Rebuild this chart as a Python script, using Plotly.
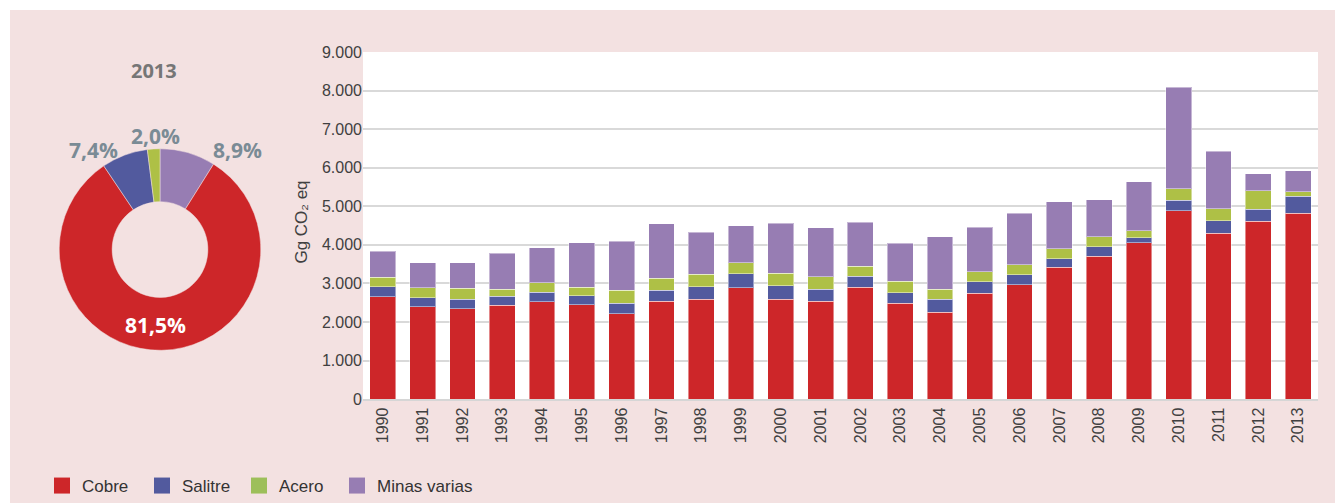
import plotly.graph_objects as go

# ---------------- data ----------------
years = [str(y) for y in range(1990, 2014)]
cobre = [2660, 2400, 2350, 2430, 2520, 2450, 2220, 2540, 2590, 2890, 2590, 2540,
         2900, 2490, 2250, 2740, 2960, 3420, 3700, 4050, 4880, 4300, 4610, 4820]
salitre = [250, 230, 240, 240, 250, 230, 270, 280, 320, 360, 350, 310,
           290, 270, 340, 310, 260, 220, 250, 130, 280, 330, 310, 440]
acero = [250, 260, 280, 180, 250, 220, 340, 310, 330, 280, 330, 320,
         260, 300, 260, 250, 260, 260, 260, 190, 290, 310, 480, 120]
minas = [670, 640, 670, 930, 900, 1160, 1260, 1420, 1090, 960, 1290, 1270,
         1140, 980, 1360, 1150, 1340, 1220, 960, 1270, 2630, 1490, 440, 540]

series_names = ["Cobre", "Salitre", "Acero", "Minas varias"]
series_values = [cobre, salitre, acero, minas]

pie_year = "2013"
pie_labels = ["Minas varias", "Cobre", "Salitre", "Acero"]
pie_values = [8.9, 81.5, 7.4, 2.0]

y_ticks = [0, 1000, 2000, 3000, 4000, 5000, 6000, 7000, 8000, 9000]
y_title = "Gg CO₂ eq"

# ---------------- style ----------------
colors = {"Cobre": "#cd2629", "Salitre": "#525a9e", "Acero": "#aec046", "Minas varias": "#977db3"}
legend_colors = {"Cobre": "#cd2629", "Salitre": "#525a9e", "Acero": "#9dbf5a", "Minas varias": "#977db3"}
legend_x_px = [42, 142, 239, 337]
PINK = "#f3e1e1"
OFF = 8                      # page body margin
W, H = 1343 - OFF, 504 - OFF
NARROW = "Liberation Sans Narrow, Arial Narrow, Liberation Sans, sans-serif"
ARIAL = "Liberation Sans, Arial, sans-serif"
BOLD = "Open Sans, Lato, sans-serif"

def px_x(p):
    return (p - OFF) / W

def px_y(p):
    return (H - (p - OFF)) / H

fig = go.Figure()

for name, vals in zip(series_names, series_values):
    fig.add_trace(go.Bar(
        x=years, y=vals, name=name, showlegend=False,
        marker=dict(color=colors[name], line=dict(color="rgba(255,255,255,0.45)", width=1)),
    ))

# legend entries (square swatches), one small legend per entry
legend_ids = ["legend", "legend2", "legend3", "legend4"]
for name, lid in zip(series_names, legend_ids):
    fig.add_trace(go.Scatter(
        x=[None], y=[None], mode="markers", name=name, showlegend=True, legend=lid,
        marker=dict(symbol="square", size=18, color=legend_colors[name]),
    ))

fig.add_trace(go.Pie(
    labels=pie_labels, values=pie_values, sort=False, direction="clockwise",
    rotation=0, hole=0.475, textinfo="none", showlegend=False,
    marker=dict(colors=[colors[l] for l in pie_labels], line=dict(color=PINK, width=0.5)),
    domain=dict(x=[px_x(59), px_x(261)], y=[px_y(351), px_y(149)]),
))

def fmt_pct(v):
    return f"{v:.1f}".replace(".", ",") + "%"

pie_label_pos = {"Minas varias": (237, 150, "#7a8b95"),
                 "Cobre": (155, 326, "white"),
                 "Salitre": (93, 150, "#7a8b95"),
                 "Acero": (155, 136, "#7a8b95")}

annotations = []
for lab, val in zip(pie_labels, pie_values):
    x, y, c = pie_label_pos[lab]
    annotations.append(dict(
        x=px_x(x), y=px_y(y), xref="paper", yref="paper", text=fmt_pct(val),
        showarrow=False, font=dict(family=BOLD, size=21, color=c, weight="bold"),
        xanchor="center", yanchor="middle"))

annotations.append(dict(
    x=px_x(154), y=px_y(71), xref="paper", yref="paper", text=pie_year,
    showarrow=False, font=dict(family=BOLD, size=20, color="#767676", weight="bold"),
    xanchor="center", yanchor="middle"))

annotations.append(dict(
    x=px_x(302), y=px_y(223), xref="paper", yref="paper", text=y_title,
    showarrow=False, textangle=-90, font=dict(family=NARROW, size=17, color="#404040"),
    xanchor="center", yanchor="middle"))

shapes = [
    dict(type="rect", xref="paper", yref="paper", x0=px_x(10), x1=1.0, y0=0, y1=px_y(10),
         fillcolor=PINK, line=dict(width=0), layer="below"),
    dict(type="rect", xref="x domain", yref="y domain", x0=0, x1=1, y0=0, y1=1,
         fillcolor="white", line=dict(width=0), layer="below"),
]

layout_legends = {}
for lid, lx in zip(legend_ids, legend_x_px):
    layout_legends[lid] = dict(
        orientation="h", x=px_x(lx), y=px_y(487), xanchor="left", yanchor="middle",
        font=dict(family=NARROW, size=17, color="#333333"),
        bgcolor="rgba(0,0,0,0)", itemclick=False, itemdoubleclick=False)

fig.update_layout(
    width=W, height=H, autosize=False,
    margin=dict(l=0, r=0, t=0, b=0),
    paper_bgcolor="white", plot_bgcolor="white",
    separators=",.",
    barmode="stack", bargap=0.35,
    shapes=shapes, annotations=annotations,
    showlegend=True,
    xaxis=dict(domain=[px_x(363), px_x(1318)], tickangle=-90, showgrid=False,
               showline=True, linecolor="#d6d6d6", linewidth=2, ticks="",
               tickfont=dict(family=ARIAL, size=16, color="#404040"), automargin=False,
               fixedrange=True),
    yaxis=dict(domain=[px_y(400), px_y(52)], range=[0, 9000], tickvals=y_ticks,
               tickformat=",", showgrid=True, gridcolor="#d9d9d9", gridwidth=1.5,
               zeroline=False, showline=False, ticks="",
               tickfont=dict(family=ARIAL, size=16, color="#404040"), automargin=False,
               fixedrange=True),
    **layout_legends,
)

fig.write_html("out.html")
